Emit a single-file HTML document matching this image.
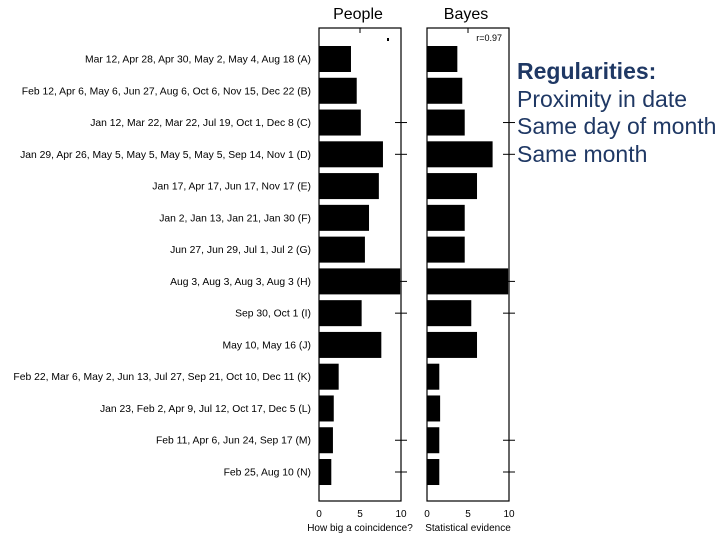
<!DOCTYPE html>
<html><head><meta charset="utf-8"><style>
body{margin:0;background:#fff;width:720px;height:540px;overflow:hidden;font-family:"Liberation Sans",sans-serif}
#reg{position:absolute;left:517px;top:58px;color:#1f3864;font-size:23px;line-height:27.5px;white-space:nowrap}
</style></head><body>
<svg width="720" height="540" style="position:absolute;left:0;top:0" id="svg"></svg>
<div id="reg"><b>Regularities:</b><br>Proximity in date<br>Same day of month<br>Same month</div>
<script>
const labels=["Mar 12, Apr 28, Apr 30, May 2, May 4, Aug 18  (A)","Feb 12, Apr 6, May 6, Jun 27, Aug 6, Oct 6, Nov 15, Dec 22  (B)","Jan 12, Mar 22, Mar 22, Jul 19, Oct 1, Dec 8  (C)","Jan 29, Apr 26, May 5, May 5, May 5, May 5, Sep 14, Nov 1  (D)","Jan 17, Apr 17, Jun 17, Nov 17  (E)","Jan 2, Jan 13, Jan 21, Jan 30  (F)","Jun 27, Jun 29, Jul 1, Jul 2  (G)","Aug 3, Aug 3, Aug 3, Aug 3  (H)","Sep 30, Oct 1  (I)","May 10, May 16  (J)","Feb 22, Mar 6, May 2, Jun 13, Jul 27, Sep 21, Oct 10, Dec 11  (K)","Jan 23,  Feb 2, Apr 9, Jul 12, Oct 17, Dec 5  (L)","Feb 11, Apr 6, Jun 24, Sep 17  (M)","Feb 25, Aug 10  (N)"];
const people=[3.9,4.6,5.1,7.8,7.3,6.1,5.6,9.9,5.2,7.6,2.4,1.8,1.7,1.5];
const bayes=[3.7,4.3,4.6,8.0,6.1,4.6,4.6,9.9,5.4,6.1,1.5,1.6,1.5,1.5];
const xTicks=[0,5,10];
const svg=document.getElementById('svg');const NS='http://www.w3.org/2000/svg';
function mk(t,a,txt){const e=document.createElementNS(NS,t);for(const k in a)e.setAttribute(k,a[k]);if(txt!==undefined)e.textContent=txt;svg.appendChild(e);return e;}
const axTop=28,axBot=501,rowY=i=>59+i*31.77,bh=26;
const panels=[{x0:319,vals:people,title:"People",xl:"How big a coincidence?",n:"people"},{x0:427,vals:bayes,title:"Bayes",xl:"Statistical evidence",n:"bayes"}];
const W=82;
panels.forEach(p=>{
 const sx=v=>p.x0+v/10*W;
 let e=mk('rect',{x:p.x0,y:axTop,width:W,height:axBot-axTop,fill:'none',stroke:'#000','stroke-width':1.2});
 
 
 p.vals.forEach((v,i)=>{e=mk('rect',{x:p.x0,y:rowY(i)-bh/2,width:sx(v)-p.x0,height:bh,fill:'#000'});
 
 });
 [2,3,7,8,12,13].forEach(i=>{mk('line',{x1:p.x0+W-6,x2:p.x0+W+6,y1:rowY(i),y2:rowY(i),stroke:'#000'});});
 mk('line',{x1:sx(5),x2:sx(5),y1:axTop,y2:axTop+5,stroke:'#000'});
 xTicks.forEach(t=>{e=mk('text',{x:sx(t),y:517,'font-size':10,'text-anchor':'middle'},t);
 
 });
 e=mk('text',{x:p.x0+W/2,y:531,'font-size':10,'text-anchor':'middle'},p.xl);
 
 
 e=mk('text',{x:p.x0+W/2-2,y:19,'font-size':16,'text-anchor':'middle'},p.title);
 
 
});
let e=mk('text',{x:502,y:41,'font-size':9,'text-anchor':'end'},'r=0.97');


mk('rect',{x:387,y:38,width:2,height:3,fill:'#000'});
labels.forEach((l,i)=>{e=mk('text',{x:311,y:rowY(i)+3.5,'font-size':10.35,'text-anchor':'end'},l);

});
</script>
</body></html>
